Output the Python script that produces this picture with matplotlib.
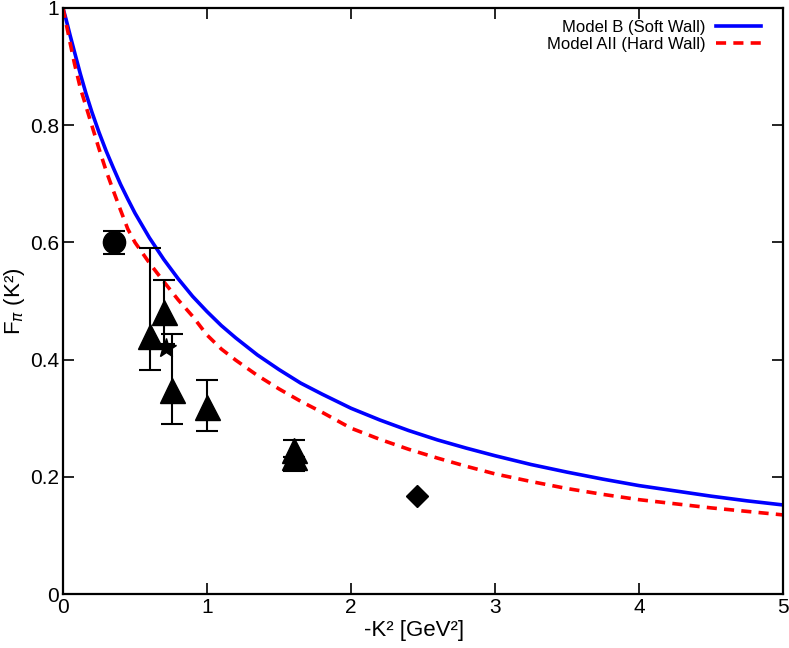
import matplotlib
matplotlib.use("Agg")
import matplotlib.pyplot as plt

plt.rcParams['font.family'] = ['Liberation Sans Narrow', 'Liberation Sans', 'DejaVu Sans']

# Model curves
curve_x = [0, 0.02, 0.05, 0.08, 0.12, 0.16, 0.2, 0.25, 0.3, 0.35, 0.4, 0.45, 0.5,
           0.6, 0.7, 0.8, 0.9, 1.0, 1.1, 1.2, 1.35, 1.5, 1.65, 1.8, 2.0, 2.2, 2.4,
           2.6, 2.8, 3.0, 3.25, 3.5, 3.75, 4.0, 4.25, 4.5, 4.75, 5.0]
soft_wall = [1.0, 0.982, 0.953, 0.925, 0.888, 0.854, 0.823, 0.788, 0.756, 0.727, 0.699,
             0.674, 0.650, 0.608, 0.571, 0.538, 0.508, 0.482, 0.458, 0.437, 0.408, 0.383,
             0.360, 0.341, 0.317, 0.297, 0.279, 0.263, 0.249, 0.236, 0.221, 0.208, 0.196,
             0.185, 0.176, 0.167, 0.159, 0.152]
hard_wall = [1.0, 0.976, 0.940, 0.905, 0.864, 0.832, 0.800, 0.760, 0.722, 0.688, 0.655,
             0.623, 0.600, 0.565, 0.533, 0.502, 0.474, 0.442, 0.418, 0.399, 0.373, 0.350,
             0.329, 0.310, 0.283, 0.264, 0.247, 0.232, 0.218, 0.205, 0.192, 0.180, 0.170,
             0.161, 0.154, 0.147, 0.141, 0.135]

# Experimental points
circle_x, circle_y, circle_err = [0.354], [0.600], [0.020]
tri_x = [0.604, 0.701, 0.755, 1.0, 1.604, 1.604]
tri_y = [0.440, 0.481, 0.348, 0.319, 0.246, 0.233]
tri_err_lo = [0.058, 0.055, 0.058, 0.040, 0.036, 0.0]
tri_err_hi = [0.150, 0.055, 0.095, 0.046, 0.016, 0.0]
star_x, star_y = [0.715], [0.419]
diamond_x, diamond_y = [2.456], [0.168]

fig = plt.figure(figsize=(7.89, 6.48), dpi=100)
ax = fig.add_axes([0.0798, 0.0833, 0.9126, 0.9044])

ax.plot(curve_x, soft_wall, color="#0000ff", lw=2.6, label="Model B (Soft Wall)")
ax.plot(curve_x, hard_wall, color="#ff0000", lw=2.6, dashes=(2.8, 2.0),
        label="Model AII (Hard Wall)")

ax.errorbar(circle_x, circle_y, yerr=circle_err, fmt="o", color="black", ms=16,
            capsize=8, elinewidth=1.5, capthick=1.5)
ax.errorbar(tri_x, tri_y, yerr=[tri_err_lo, tri_err_hi], fmt="^", color="black", ms=18,
            capsize=8, elinewidth=1.5, capthick=1.5)
ax.plot(star_x, star_y, "*", color="black", ms=15)
ax.plot(diamond_x, diamond_y, "D", color="black", ms=11)

ax.set_xlim(0, 5)
ax.set_ylim(0, 1)
ax.set_xticks([0, 1, 2, 3, 4, 5])
ax.set_xticklabels(["0", "1", "2", "3", "4", "5"])
ax.set_yticks([0, 0.2, 0.4, 0.6, 0.8, 1.0])
ax.set_yticklabels(["0", "0.2", "0.4", "0.6", "0.8", "1"])
ax.tick_params(direction="in", length=8, width=1.2, top=True, right=True,
               labelsize=15, pad=3)
for s in ax.spines.values():
    s.set_linewidth(1.6)

ax.set_ylabel("F$_{\\pi}$ (K²)", fontsize=16, labelpad=2)
ax.text(2.44, -0.062, "-K² [GeV²]", fontsize=16, ha="center", va="center")

ax.legend(loc="upper right", frameon=False, markerfirst=False,
          handlelength=2.7, handletextpad=0.6, labelspacing=0.15,
          borderaxespad=0.3, borderpad=0.4, bbox_to_anchor=(0.985, 1.0),
          prop={"family": ["Liberation Sans", "DejaVu Sans"], "size": 12})

fig.savefig("out.png", dpi=100)
